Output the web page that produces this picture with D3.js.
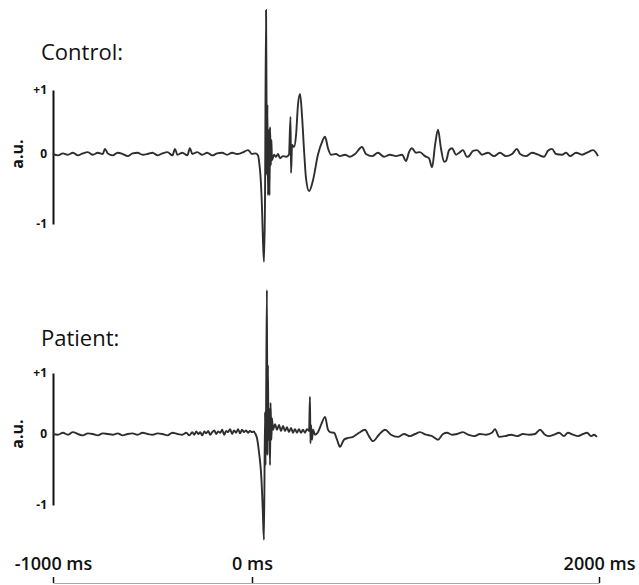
<!DOCTYPE html>
<html>
<head>
<meta charset="utf-8">
<script src="https://cdn.jsdelivr.net/npm/d3@7"></script>
<style>
  body { margin: 0; background: #fff; }
  text { font-family: "Open Sans", sans-serif; fill: #111; }
</style>
</head>
<body>
<div id="chart"></div>
<script>
// time (ms) and amplitude (a.u.)
var controlTime = [
  -1000,-975,-950,-925,-900,-875,-850,-825,-800,-775,
  -750,-739,-725,-700,-675,-650,-625,-600,-575,-550,
  -525,-500,-475,-450,-425,-400,-387,-375,-350,-325,
  -312,-300,-275,-250,-225,-200,-175,-150,-125,-100,
  -75,-50,-20,0,20,35,40,52,58,63,
  69,75,81,84,86,89,92,98,101,104,
  109,112,115,127,138,150,161,179,196,213,
  222,225,231,242,254,265,277,288,300,311,
  329,352,380,404,421,438,455,484,507,536,
  565,594,634,657,692,726,761,795,830,865,
  888,905,922,945,968,997,1020,1038,1055,1072,
  1089,1107,1118,1136,1153,1176,1199,1216,1239,1251,
  1274,1297,1326,1360,1395,1429,1464,1499,1527,1545,
  1579,1614,1649,1683,1706,1729,1752,1787,1810,1833,
  1868,1902,1937,1966,1983,1994
];
var controlValue = [
  0,-0.02,0.01,-0.01,0.02,-0.02,0.01,0.03,-0.01,0.02,
  0,0.08,0.01,-0.02,0.02,0,-0.03,0.01,0.02,-0.01,
  0,0.02,-0.02,0.01,0.03,-0.02,0.08,-0.01,0.02,-0.02,
  0.09,0,0.03,-0.01,0.02,-0.02,0.01,0.02,-0.01,0.02,
  0,0.02,0.06,0,0.01,-0.02,-0.09,-0.44,-0.8,-1.23,
  -1.54,-0.66,2.25,0.69,-0.3,0.77,-0.59,0.38,-0.59,0.42,
  -0.16,0.22,-0.09,-0.01,-0.04,0,-0.06,-0.03,-0.04,-0.01,
  0.58,-0.27,0.14,0.11,0.3,0.77,0.94,0.61,0.06,-0.34,
  -0.53,-0.37,-0.01,0.19,0.27,0.09,-0.01,0,-0.03,-0.01,
  -0.04,0,0.11,0,-0.03,0.02,-0.04,-0.01,-0.03,-0.01,
  -0.1,0.03,0.09,0.02,0.03,-0.03,-0.06,-0.19,0.14,0.38,
  0.09,-0.11,-0.1,0.06,0.09,-0.01,0.03,0.06,-0.04,-0.03,
  0.05,0.06,-0.01,0.02,-0.03,0.02,-0.03,0,0.08,0,
  -0.03,0.02,-0.01,-0.04,0.05,0.08,0,-0.01,0.02,-0.03,
  0.02,-0.01,0.03,0.06,0.02,-0.03
];

var patientTime = [
  -1000,-975,-950,-925,-900,-875,-850,-825,-800,-775,
  -750,-725,-700,-675,-650,-625,-600,-575,-550,-525,
  -500,-475,-450,-425,-400,-375,-350,-330,-315,-300,
  -290,-280,-270,-260,-250,-240,-230,-220,-210,-200,
  -190,-180,-170,-160,-150,-140,-130,-120,-110,-100,
  -90,-80,-70,-60,-50,-40,-30,-20,-10,0,
  10,20,29,40,52,58,63,69,75,78,
  81,86,89,92,95,98,104,107,112,115,
  121,133,144,156,167,179,190,202,213,225,
  236,248,259,271,282,294,305,317,329,334,
  337,340,346,352,363,380,398,421,438,450,
  473,490,507,530,548,582,617,651,674,697,
  732,767,801,841,876,911,940,968,1003,1038,
  1072,1101,1124,1153,1182,1216,1245,1280,1314,1349,
  1383,1401,1424,1458,1493,1527,1562,1597,1631,1660,
  1689,1712,1741,1770,1798,1821,1850,1879,1908,1931,
  1954,1971,1988
];
var patientValue = [
  0,-0.01,0.02,-0.01,0.03,0,-0.02,0.01,0,-0.02,
  0.01,0,-0.01,0.01,-0.02,0,0.01,-0.01,0.02,0,
  -0.01,0.01,0,-0.02,0.02,0,-0.01,0.02,-0.02,0.03,
  -0.01,0.04,0,0.03,-0.02,0.04,0.01,0.05,-0.01,0.03,
  0.06,0,0.04,0.02,0.07,-0.01,0.05,0.03,0.08,0,
  0.06,0.02,0.08,0.01,0.07,0.03,0.06,0.02,0.05,0.03,
  0.04,0,-0.06,-0.25,-0.54,-0.82,-1.14,-1.49,0.36,-0.44,
  0.36,2.36,-0.3,1.13,-0.08,0.43,-0.44,0.51,-0.08,0.26,
  0.07,0.16,0.07,0.15,0.05,0.13,0.05,0.11,0.03,0.1,
  0.02,0.08,0.02,0.08,0.02,0.07,0.02,0.08,0.05,0.61,
  -0.13,0.15,-0.08,0.07,-0.01,0.03,0.15,0.28,0.07,0.03,
  0.02,-0.08,-0.18,-0.08,-0.06,-0.04,0.02,0.07,-0.03,-0.1,
  -0.01,0.07,-0.01,-0.04,0,-0.03,0,0.03,-0.01,-0.03,
  -0.08,0,0.02,-0.01,0,0.03,-0.01,-0.03,0,-0.01,
  0.02,0.08,-0.04,-0.03,-0.01,-0.03,0,-0.01,0,0.07,
  -0.01,-0.03,-0.01,0.02,-0.03,0.02,-0.01,-0.03,0,0.02,
  -0.03,-0.01,-0.04
];

var timeTicks = [-1000, 0, 2000];
var ampTicks = [-1, 0, 1];
var panelTitles = ["Control:", "Patient:"];

function init(){
    var w = 639;
    var h = 585;

    var svg = d3.select("#chart")
                .append("svg")
                .attr("width", w)
                .attr("height", h);

    // the original time axis is not evenly spaced, so use a piecewise scale
    var x = d3.scaleLinear()
              .domain([-1000, 0, 2000])
              .range([53, 252, 599]);

    var panels = [
        { title: panelTitles[0], t: controlTime, v: controlValue,
          y: d3.scaleLinear().domain([-1, 0, 1]).range([224, 154, 90]), titleY: 60 },
        { title: panelTitles[1], t: patientTime, v: patientValue,
          y: d3.scaleLinear().domain([-1, 0, 1]).range([505, 434, 373]), titleY: 346 }
    ];

    panels.forEach(function(p){
        var g = svg.append("g");

        g.append("text")
         .attr("x", 41)
         .attr("y", p.titleY)
         .style("font-size", "22px")
         .text(p.title);

        var yAxis = d3.axisLeft(p.y)
                      .tickValues(ampTicks)
                      .tickSize(0)
                      .tickPadding(6)
                      .tickFormat(function(d){ return d > 0 ? "+" + d : d; });

        var ya = g.append("g")
                  .attr("transform", "translate(53,0)")
                  .call(yAxis);
        ya.select(".domain").attr("stroke", "#111").attr("stroke-width", 2);
        ya.selectAll("text")
          .style("font-family", "'Open Sans', sans-serif")
          .style("font-size", "12px")
          .style("font-weight", "700")
          .attr("fill", "#111");

        g.append("text")
         .attr("transform", "translate(23," + p.y(0) + ") rotate(-90)")
         .attr("text-anchor", "middle")
         .style("font-size", "16px")
         .style("font-weight", "700")
         .text("a.u.");

        var line = d3.line()
                     .curve(d3.curveMonotoneX)
                     .x(function(d){ return x(d[0]); })
                     .y(function(d){ return p.y(d[1]); });

        g.append("path")
         .datum(d3.zip(p.t, p.v))
         .attr("fill", "none")
         .attr("stroke", "#2e2e2e")
         .attr("stroke-width", 1.9)
         .attr("stroke-linejoin", "round")
         .attr("d", line);
    });

    // time axis at the bottom
    var xAxis = d3.axisTop(x)
                  .tickValues(timeTicks)
                  .tickSize(6)
                  .tickSizeOuter(0)
                  .tickPadding(7)
                  .tickFormat(function(d){ return d + " ms"; });

    var xa = svg.append("g")
                .attr("transform", "translate(0,583)")
                .call(xAxis);
    xa.select(".domain").attr("stroke", "#aaa").attr("stroke-width", 1);
    xa.selectAll(".tick line").attr("stroke", "#111").attr("stroke-width", 1.5);
    xa.selectAll("text")
      .style("font-family", "'Open Sans', sans-serif")
      .style("font-size", "18px")
      .style("font-weight", "600")
      .attr("fill", "#111");
}
window.onload = init;
</script>
</body>
</html>
